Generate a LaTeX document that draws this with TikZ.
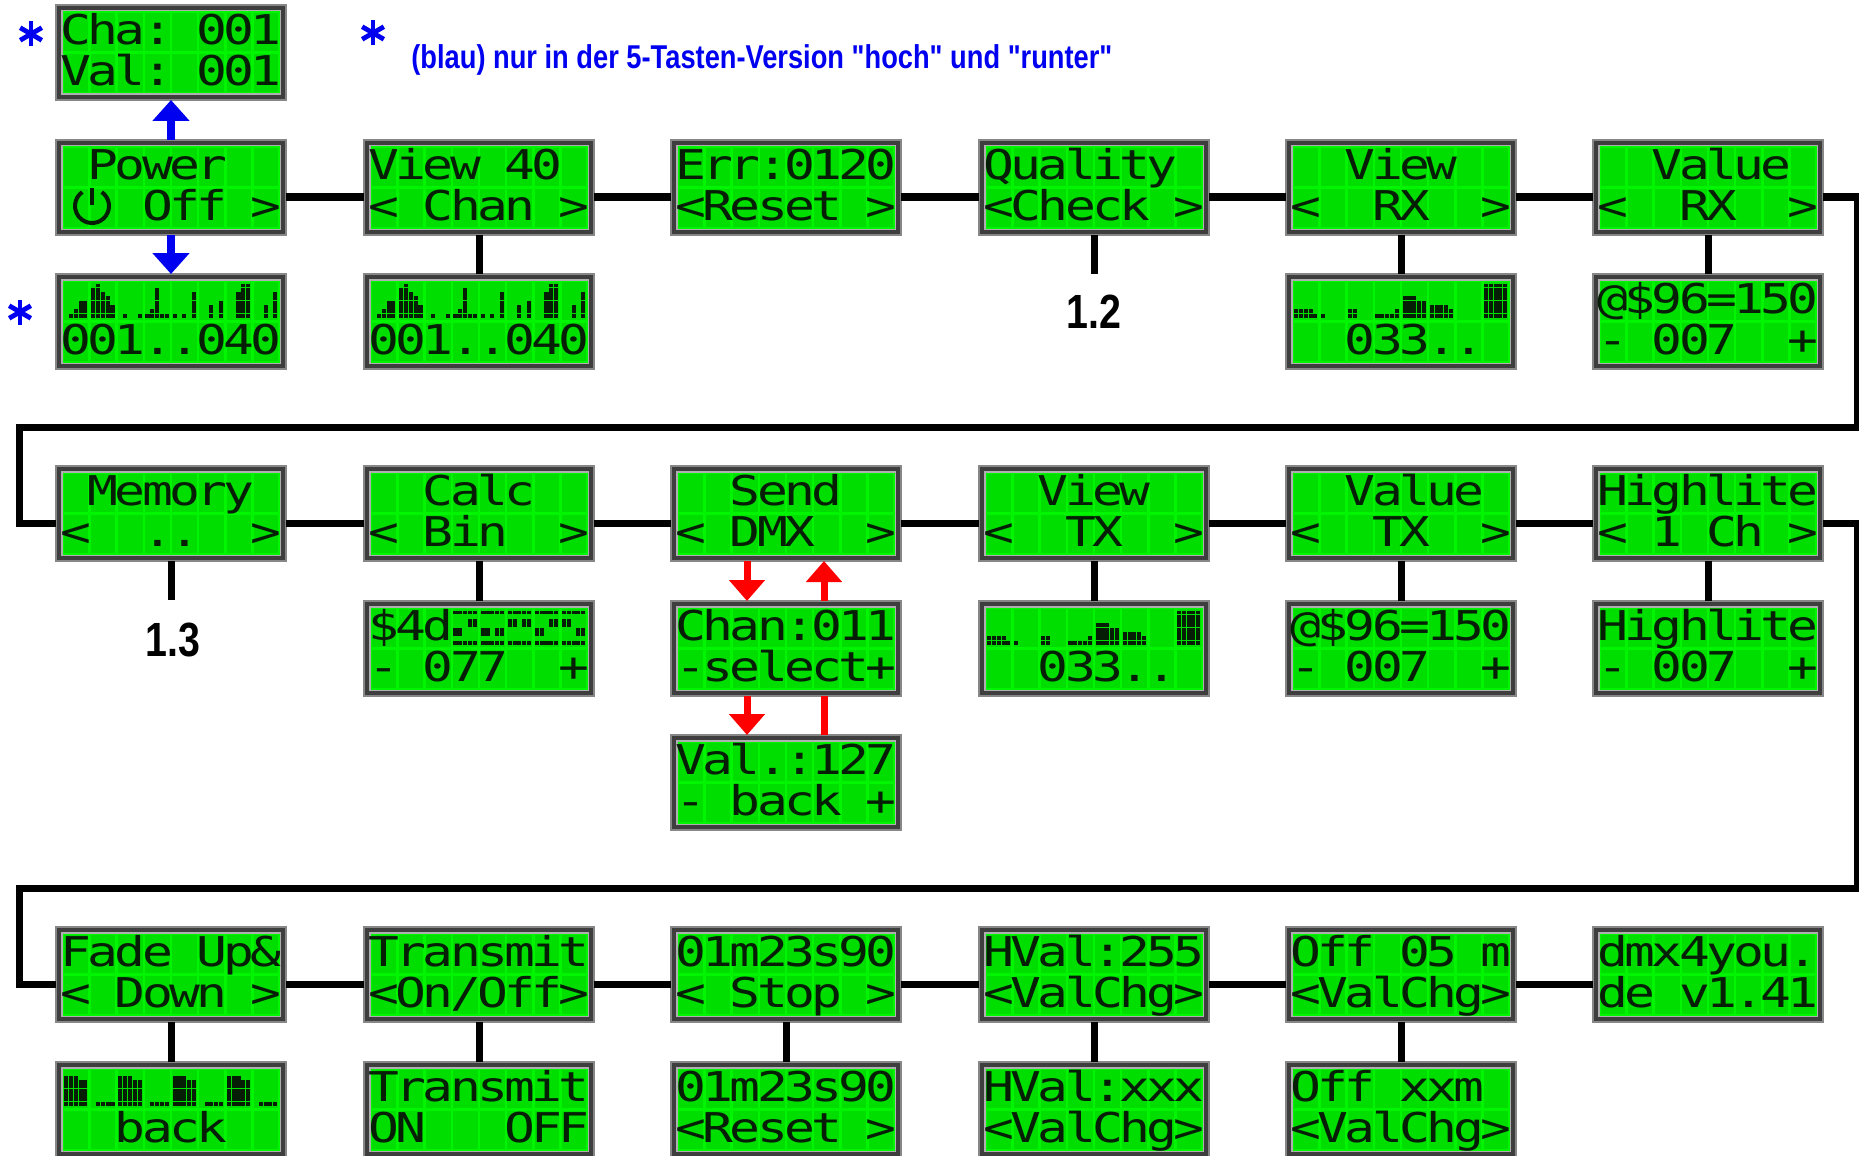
\documentclass[tikz,border=0pt]{standalone}
\usepackage{fontspec}
\setmainfont{Liberation Sans}
\newfontfamily\lcdfont{DejaVu Sans Mono}
\usetikzlibrary{arrows.meta}
\definecolor{lcdbg}{RGB}{0,245,0}
\definecolor{lcdcell}{RGB}{0,222,0}
\definecolor{lcdink}{RGB}{5,30,5}
\definecolor{frameDark}{RGB}{62,62,62}
\definecolor{frameLine}{RGB}{135,135,135}
\definecolor{bevelc}{RGB}{175,175,175}
\definecolor{myblue}{RGB}{0,0,240}
\definecolor{myred}{RGB}{255,0,0}
\newcount\lcdcol
\newsavebox\notebox
\newlength\notewd
\def\lcdstop{lcdstop}
\def\lcdparse#1{\ifx#1\lcdstop\else\lcdput{#1}\global\advance\lcdcol by 1\relax\expandafter\lcdparse\fi}
\def\lcdput#1{\ifx#1_\else\node[lcdchar] (\lcdN-\lcdR-\the\lcdcol) at ({\lcdX+6.5+27.125*\the\lcdcol+13.56},{\lcdY}) {\scalebox{1.25}[1]{#1}};\fi}
\newcommand\lcd[5]{%
 \node[lcdframe] (#1) at (#2,#3) {};
 \draw[bevelc, line width=0.7pt] (#2+5.8,#3+5.8) rectangle (#2+224.2,#3+89.2);
 \fill[lcdbg] (#2+6.5,#3+6.5) rectangle (#2+223.5,#3+88.5);
 \foreach \i in {0,...,7}{\foreach \j in {0,1}{\fill[lcdcell] ({#2+6.5+27.125*\i+1.3},{#3+6.5+41*\j+1.5}) rectangle ++(24.5,38);}}
 \coordinate (#1-l) at (#2,#3+57);
 \coordinate (#1-r) at (#2+230,#3+57);
 \def\lcdN{#1}\def\lcdX{#2}%
 \def\lcdR{a}\def\lcdY{#3+6.5+33}\global\lcdcol=0 \lcdparse#4\lcdstop
 \def\lcdR{b}\def\lcdY{#3+47.5+33}\global\lcdcol=0 \lcdparse#5\lcdstop
}
% dot bars: box x, box y, row, 40 heights
\newcommand\lcdbars[4]{%
 \foreach \h [count=\k from 0] in {#4}{%
   \ifnum\h>0
     \foreach \r in {1,...,\h}{%
       \fill[lcdink] ({#1+6.5+27.125*int(\k/5)+1.6+4.8*mod(\k,5)},{#2+6.5+41*#3+3+4.3*(8-\r)}) rectangle ++(4.1,3.9);
     }%
   \fi
 }%
}
% single dots: box x, box y, row, cell, list c/r
\newcommand\lcdpix[5]{%
 \foreach \c/\r in {#5}{%
   \fill[lcdink] ({#1+6.5+27.125*#4+1.6+4.8*\c},{#2+6.5+41*#3+3+4.3*\r}) rectangle ++(4.1,3.9);
 }%
}
\newcommand\bstar[2]{%
 \foreach \a in {90,30,150}{\draw[myblue, line width=2.4pt] ([shift={(\a:12.5)}]#1,#2) -- ([shift={(\a+180:12.5)}]#1,#2);}%
}
\begin{document}
\sbox\notebox{\color{myblue}\fontsize{16.5}{16.5}\selectfont\bfseries (blau) nur in der 5-Tasten-Version \textquotedbl hoch\textquotedbl{} und \textquotedbl runter\textquotedbl}%
\setlength\notewd{\wd\notebox}%
\pgfmathsetmacro\noteratio{350.5/\notewd}%
\begin{tikzpicture}[x=0.5pt,y=-0.5pt,
  lcdframe/.style={rectangle, anchor=north west, minimum width=115pt, minimum height=47.5pt, inner sep=0pt, outer sep=0pt, fill=frameDark, draw=frameLine, line width=0.6pt},
  lcdchar/.style={anchor=base, inner sep=0pt, text=lcdink, font=\lcdfont\fontsize{20.5}{20.5}\selectfont},
  conn/.style={line width=3.5pt, black, line join=miter},
  barrow/.style={line width=4pt, myblue, -{Triangle[width=18pt,length=10.5pt]}},
  rarrow/.style={line width=3.5pt, myred, -{Triangle[width=17.5pt,length=10.5pt]}},
  rline/.style={line width=3.5pt, myred},
  lbl/.style={inner sep=0pt, font=\bfseries\fontsize{24}{24}\selectfont}]
\useasboundingbox (0,0) rectangle (1859,1156);
\def\XA{56}\def\XB{364}\def\XC{671}\def\XD{979}\def\XE{1286}\def\XF{1593}
% ---------- row 1 ----------
\lcd{cha}{\XA}{5}{Cha:_001}{Val:_001}
\lcd{pow}{\XA}{140}{_Power__}{___Off_>}
\draw[lcdink, line width=2pt] ([shift={(305:17)}]92,206) arc[start angle=305,end angle=595,radius=17];
\draw[lcdink, line width=2pt] (92,188) -- (92,205);
\lcd{pows}{\XA}{274}{________}{001..040}
\lcdbars{\XA}{274}{0}{0,1,2,4,4, 7,8,6,5,3, 0,1,0,0,1, 1,2,7,1,1, 1,0,1,0,6, 0,0,3,0,4, 0,0,6,8,8, 0,0,3,0,6}
\lcd{v40}{\XB}{140}{View_40_}{<_Chan_>}
\lcd{v40s}{\XB}{274}{________}{001..040}
\lcdbars{\XB}{274}{0}{0,1,2,4,4, 7,8,6,5,3, 0,1,0,0,1, 1,2,7,1,1, 1,0,1,0,6, 0,0,3,0,4, 0,0,6,8,8, 0,0,3,0,6}
\lcd{err}{\XC}{140}{Err:0120}{<Reset_>}
\lcd{qual}{\XD}{140}{Quality_}{<Check_>}
\lcd{vrx}{\XE}{140}{__View__}{<__RX__>}
\lcd{vrxs}{\XE}{274}{________}{__033.._}
\lcdbars{\XE}{274}{0}{2,2,2,2,1, 1,0,0,0,0, 2,2,0,0,0, 1,1,1,1,2, 5,5,5,4,4, 3,3,3,3,2, 0,0,0,0,0, 8,8,8,8,8}
\lcd{valrx}{\XF}{140}{__Value_}{<__RX__>}
\lcd{valrxs}{\XF}{274}{@\$96=150}{-_007__+}
% ---------- row 2 ----------
\lcd{mem}{\XA}{466}{_Memory_}{<__..__>}
\lcd{calc}{\XB}{466}{__Calc__}{<_Bin__>}
\lcd{calcs}{\XB}{601}{\$4d_____}{-_077__+}
\foreach \cc in {3,4,5,6,7}{\lcdpix{\XB}{601}{0}{\cc}{0/0,1/0,2/0,3/0,4/0,0/7,1/7,2/7,3/7,4/7}}
\lcdpix{\XB}{601}{0}{3}{0/4,1/4,0/5,1/5,3/2,4/2,3/3,4/3}
\lcdpix{\XB}{601}{0}{4}{0/4,1/4,0/5,1/5,3/4,4/4,3/5,4/5}
\lcdpix{\XB}{601}{0}{5}{0/2,1/2,0/3,1/3,3/2,4/2,3/3,4/3}
\lcdpix{\XB}{601}{0}{6}{0/4,1/4,0/5,1/5,3/2,4/2,3/3,4/3}
\lcdpix{\XB}{601}{0}{7}{0/2,1/2,0/3,1/3,3/4,4/4,3/5,4/5}
\lcd{send}{\XC}{466}{__Send__}{<_DMX__>}
\lcd{chan}{\XC}{601}{Chan:011}{-select+}
\lcd{val}{\XC}{735}{Val.:127}{-_back_+}
\lcd{vtx}{\XD}{466}{__View__}{<__TX__>}
\lcd{vtxs}{\XD}{601}{________}{__033.._}
\lcdbars{\XD}{601}{0}{2,2,2,2,1, 1,0,0,0,0, 2,2,0,0,0, 1,1,1,1,2, 5,5,5,4,4, 3,3,3,3,2, 0,0,0,0,0, 8,8,8,8,8}
\lcd{valtx}{\XE}{466}{__Value_}{<__TX__>}
\lcd{valtxs}{\XE}{601}{@\$96=150}{-_007__+}
\lcd{hl}{\XF}{466}{Highlite}{<_1_Ch_>}
\lcd{hls}{\XF}{601}{Highlite}{-_007__+}
% ---------- row 3 ----------
\lcd{fade}{\XA}{927}{Fade_Up\&}{<_Down_>}
\lcd{fades}{\XA}{1062}{________}{__back__}
\lcdbars{\XA}{1062}{0}{7,7,7,6,6, 0,1,1,1,1, 7,7,7,6,6, 0,1,1,1,1, 7,7,7,6,6, 0,1,1,1,1, 7,7,7,6,6, 0,1,1,1,1}
\lcd{tr}{\XB}{927}{Transmit}{<On/Off>}
\lcd{trs}{\XB}{1062}{Transmit}{ON___OFF}
\lcd{tm}{\XC}{927}{01m23s90}{<_Stop_>}
\lcd{tms}{\XC}{1062}{01m23s90}{<Reset_>}
\lcd{hv}{\XD}{927}{HVal:255}{<ValChg>}
\lcd{hvs}{\XD}{1062}{HVal:xxx}{<ValChg>}
\lcd{off}{\XE}{927}{Off_05_m}{<ValChg>}
\lcd{offs}{\XE}{1062}{Off_xxm_}{<ValChg>}
\lcd{dmx}{\XF}{927}{dmx4you.}{de_v1.41}
% ---------- connectors ----------
\draw[conn] (pow-r) -- (v40-l);
\draw[conn] (v40-r) -- (err-l);
\draw[conn] (err-r) -- (qual-l);
\draw[conn] (qual-r) -- (vrx-l);
\draw[conn] (vrx-r) -- (valrx-l);
\draw[conn] (mem-r) -- (calc-l);
\draw[conn] (calc-r) -- (send-l);
\draw[conn] (send-r) -- (vtx-l);
\draw[conn] (vtx-r) -- (valtx-l);
\draw[conn] (valtx-r) -- (hl-l);
\draw[conn] (fade-r) -- (tr-l);
\draw[conn] (tr-r) -- (tm-l);
\draw[conn] (tm-r) -- (hv-l);
\draw[conn] (hv-r) -- (off-l);
\draw[conn] (off-r) -- (dmx-l);
\coordinate (w1a) at (1857,427);
\coordinate (w1b) at (19,427);
\coordinate (w2a) at (1857,888);
\coordinate (w2b) at (19,888);
\draw[conn] (valrx-r) -| (w1a) -- (w1b) |- (mem-l);
\draw[conn] (hl-r) -| (w2a) -- (w2b) |- (fade-l);
\coordinate (c12) at (1094,274);
\coordinate (c13) at (171,600);
\draw[conn] (v40.south) -- (v40s.north);
\draw[conn] (qual.south) -- (c12);
\draw[conn] (vrx.south) -- (vrxs.north);
\draw[conn] (valrx.south) -- (valrxs.north);
\draw[conn] (mem.south) -- (c13);
\draw[conn] (calc.south) -- (calcs.north);
\draw[conn] (vtx.south) -- (vtxs.north);
\draw[conn] (valtx.south) -- (valtxs.north);
\draw[conn] (hl.south) -- (hls.north);
\draw[conn] (fade.south) -- (fades.north);
\draw[conn] (tr.south) -- (trs.north);
\draw[conn] (tm.south) -- (tms.north);
\draw[conn] (hv.south) -- (hvs.north);
\draw[conn] (off.south) -- (offs.north);
% labels
\node[lbl] (l12) at (1094,312) {\scalebox{0.82}[1]{1.2}};
\node[lbl] (l13) at (173,640) {\scalebox{0.82}[1]{1.3}};
% blue
\draw[barrow] (pow.north) -- (cha.south);
\draw[barrow] (pow.south) -- (pows.north);
\bstar{31}{34}
\bstar{373}{33}
\bstar{20}{312}
\node[anchor=base west, inner sep=0pt, text=myblue] (note) at (411,69) {\scalebox{\noteratio}[1]{\usebox\notebox}};
% red
\draw[rarrow] ([xshift=38pt]send.south west) -- ([xshift=38pt]chan.north west);
\draw[rarrow] ([xshift=76.5pt]chan.north west) -- ([xshift=76.5pt]send.south west);
\draw[rarrow] ([xshift=38pt]chan.south west) -- ([xshift=38pt]val.north west);
\draw[rline] ([xshift=76.5pt]val.north west) -- ([xshift=76.5pt]chan.south west);
\end{tikzpicture}
\end{document}
